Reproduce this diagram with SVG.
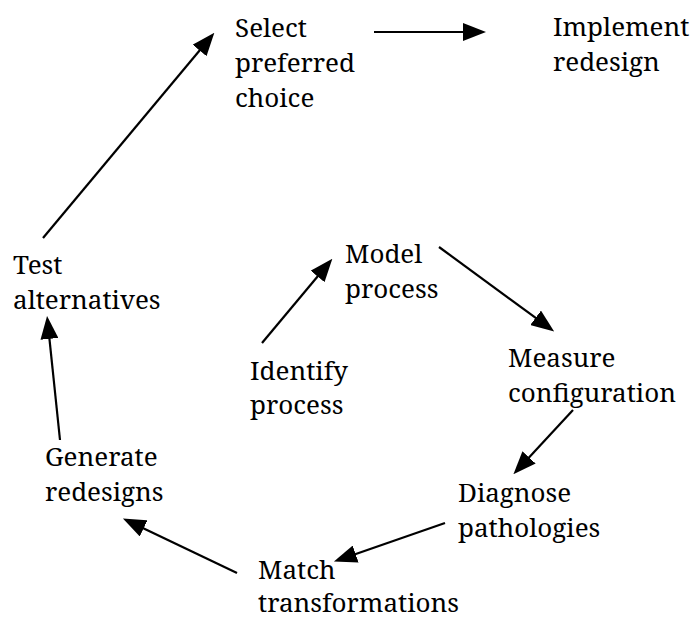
<svg xmlns="http://www.w3.org/2000/svg" width="696" height="621" viewBox="0 0 696 621">
<style>
text { font-family: 'Noto Serif', 'DejaVu Serif', serif; font-size: 26px; fill: #000; }
.c line { stroke: #000; stroke-width: 2.2; marker-end: url(#ah); }
</style>
<defs>
<marker id="ah" viewBox="0 0 23 18" refX="12" refY="9" markerWidth="23" markerHeight="18" markerUnits="userSpaceOnUse" orient="auto">
<path d="M0,0 L23,9 L0,18 z" fill="#000"/>
</marker>
</defs>
<rect width="696" height="621" fill="#fff"/>
<g id="nodes">
<g id="n-select"><text x="235" y="37">Select</text><text x="235" y="72">preferred</text><text x="235" y="107">choice</text></g>
<g id="n-implement"><text x="553" y="36">Implement</text><text x="553" y="71">redesign</text></g>
<g id="n-model"><text x="345" y="263">Model</text><text x="345" y="298">process</text></g>
<g id="n-test"><text x="13" y="274">Test</text><text x="13" y="309">alternatives</text></g>
<g id="n-identify"><text x="250" y="380">Identify</text><text x="250" y="414">process</text></g>
<g id="n-measure"><text x="508" y="367">Measure</text><text x="508" y="402">configuration</text></g>
<g id="n-generate"><text x="45" y="466">Generate</text><text x="45" y="501">redesigns</text></g>
<g id="n-diagnose"><text x="458" y="502">Diagnose</text><text x="458" y="537">pathologies</text></g>
<g id="n-match"><text x="258" y="579">Match</text><text x="258" y="612">transformations</text></g>
</g>
<g id="connectors" class="c">
<line x1="43" y1="238" x2="207.3" y2="41.2"/>
<line x1="374" y1="32" x2="475" y2="32"/>
<line x1="262" y1="343" x2="325.3" y2="267.2"/>
<line x1="439" y1="247" x2="545.3" y2="324.9"/>
<line x1="573" y1="410" x2="520.9" y2="466.2"/>
<line x1="445" y1="523" x2="344.3" y2="558.0"/>
<line x1="237" y1="573" x2="132.8" y2="523.2"/>
<line x1="60" y1="440" x2="48.2" y2="326.9"/>
</g>
</svg>
